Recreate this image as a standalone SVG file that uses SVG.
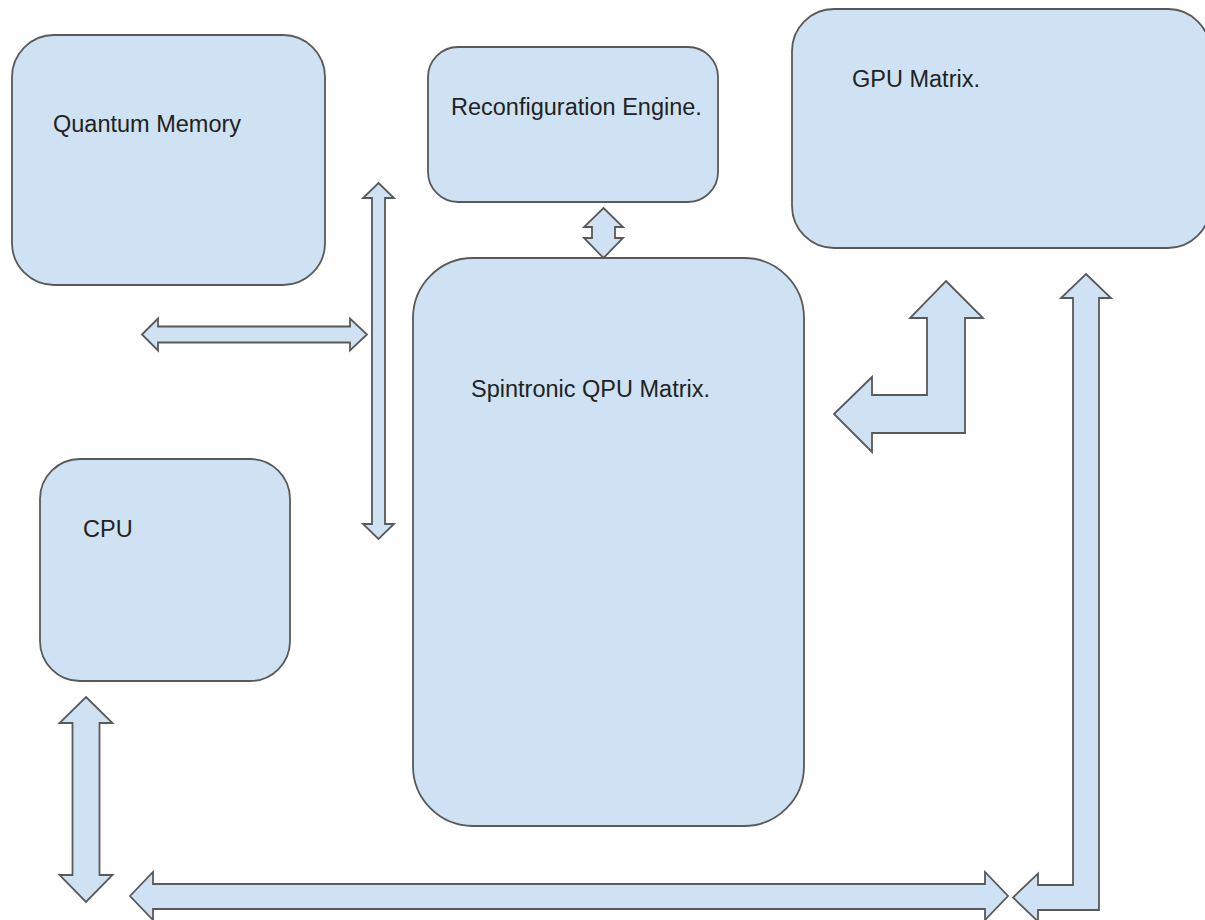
<svg xmlns="http://www.w3.org/2000/svg" width="1205" height="920" viewBox="0 0 1205 920">
<style>
.box{fill:#cfe2f3;stroke:#595959;stroke-width:1.8}
.arr{fill:#cfe2f3;stroke:#595959;stroke-width:1.8;stroke-linejoin:miter}
.lbl{font-family:"Liberation Sans",Arial,sans-serif;font-size:23.5px;fill:#222}
</style>
<rect width="1205" height="920" fill="#ffffff"/>
<g id="quantum-memory">
<rect class="box" x="12" y="35" width="313" height="250" rx="42"/>
<text class="lbl" x="53" y="132">Quantum Memory</text>
</g>
<g id="reconfiguration-engine">
<rect class="box" x="428" y="47" width="290" height="155" rx="30"/>
<text class="lbl" x="451" y="115">Reconfiguration Engine.</text>
</g>
<g id="gpu-matrix">
<rect class="box" x="792" y="9" width="418" height="239" rx="42"/>
<text class="lbl" x="852" y="87">GPU Matrix.</text>
</g>
<g id="spintronic-qpu">
<rect class="box" x="413" y="258" width="391" height="568" rx="60"/>
<text class="lbl" x="471" y="397">Spintronic QPU Matrix.</text>
</g>
<g id="cpu">
<rect class="box" x="40" y="459" width="250" height="222" rx="40"/>
<text class="lbl" x="83" y="537">CPU</text>
</g>
<g id="connectors">
<polygon class="arr" points="378.5,183 394,198 385,198 385,524 394,524 378.5,539 363,524 372,524 372,198 363,198"/>
<polygon class="arr" points="142,334.5 158,318.5 158,326.5 350,326.5 350,318.5 367,334.5 350,350.5 350,342.5 158,342.5 158,350.5"/>
<polygon class="arr" points="603.5,208 623,227 615,227 615,238 623,238 603.5,258 584,238 592,238 592,227 584,227"/>
<polygon class="arr" points="946,281 983,318 965,318 965,433 872,433 872,452 834,414 872,377 872,395 927,395 927,318 910,318"/>
<polygon class="arr" points="1086,274 1111,298 1099,298 1099,910 1038,910 1038,921.5 1013,897.5 1038,873.5 1038,885 1073,885 1073,298 1061,298"/>
<polygon class="arr" points="130,896 153,872 153,884 985,884 985,872 1008,896 985,920 985,909 153,909 153,920"/>
<polygon class="arr" points="86,697 112.5,723 99.5,723 99.5,875 112.5,875 86,902 59.5,875 72.5,875 72.5,723 59.5,723"/>
</g>
</svg>
